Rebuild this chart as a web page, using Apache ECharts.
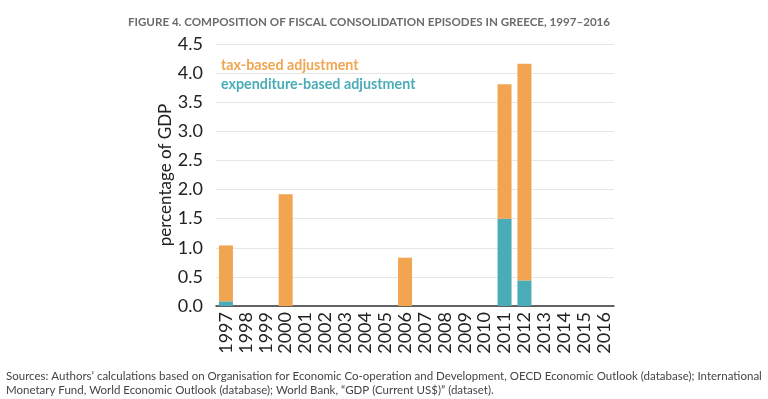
<!DOCTYPE html>
<html>
<head>
<meta charset="utf-8">
<script src="https://cdn.jsdelivr.net/npm/echarts@6/dist/echarts.min.js"></script>
<style>
  html, body { margin: 0; padding: 0; background: #fff; }
  #chart { width: 768px; height: 399px; }
</style>
</head>
<body>
<div id="chart"></div>
<script>
const years = ['1997','1998','1999','2000','2001','2002','2003','2004','2005','2006',
  '2007','2008','2009','2010','2011','2012','2013','2014','2015','2016'];
const expenditureBased = [0.08, 0, 0, 0, 0, 0, 0, 0, 0, 0, 0, 0, 0, 0, 1.5, 0.44, 0, 0, 0, 0];
const taxBased = [0.96, 0, 0, 1.92, 0, 0, 0, 0, 0, 0.83, 0, 0, 0, 0, 2.31, 3.72, 0, 0, 0, 0];

const orange = '#F2A550';
const teal = '#4AACB7';

const dom = document.getElementById('chart');
const myChart = echarts.init(dom, null, { renderer: 'canvas' });

const option = {
  animation: false,
  textStyle: { fontFamily: 'Lato' },
  title: {
    text: 'FIGURE 4. COMPOSITION OF FISCAL CONSOLIDATION EPISODES IN GREECE, 1997\u20132016',
    left: 364,
    textAlign: 'center',
    top: 11,
    textStyle: { fontSize: 11.6, fontWeight: 'bold', color: '#6b6b6b', fontFamily: 'Lato' }
  },
  legend: {
    orient: 'vertical',
    left: 216,
    top: 53,
    icon: 'none',
    itemWidth: 0,
    itemGap: 5,
    selectedMode: false,
    data: [
      { name: 'tax-based adjustment', textStyle: { color: orange } },
      { name: 'expenditure-based adjustment', textStyle: { color: teal } }
    ],
    textStyle: { fontSize: 14.3, fontWeight: 'bold', fontFamily: 'Lato', padding: [0, 0, 0, -5] }
  },
  grid: { left: 216, right: 154, top: 44, bottom: 93 },
  xAxis: {
    type: 'category',
    data: years,
    axisTick: { show: false },
    axisLine: { lineStyle: { color: '#333', width: 1.5 } },
    axisLabel: { rotate: 90, fontSize: 18, color: '#222', margin: 6, interval: 0 }
  },
  yAxis: {
    type: 'value',
    min: 0,
    max: 4.5,
    interval: 0.5,
    name: 'percentage of GDP',
    nameLocation: 'middle',
    nameGap: 42,
    nameMoveOverlap: false,
    nameTextStyle: { fontSize: 17, color: '#222' },
    axisLine: { show: false },
    axisTick: { show: false },
    splitLine: { lineStyle: { color: '#e6e6e6' } },
    axisLabel: { fontSize: 18, color: '#222', margin: 13, formatter: v => v.toFixed(1) }
  },
  series: [
    {
      name: 'expenditure-based adjustment',
      type: 'bar',
      stack: 'total',
      data: expenditureBased,
      barWidth: 14,
      itemStyle: { color: teal }
    },
    {
      name: 'tax-based adjustment',
      type: 'bar',
      stack: 'total',
      data: taxBased,
      barWidth: 14,
      itemStyle: { color: orange }
    }
  ],
  graphic: [
    {
      type: 'text',
      left: 6,
      top: 369,
      style: {
        text: 'Sources: Authors\u2019 calculations based on Organisation for Economic Co-operation and Development, OECD Economic Outlook (database); International\nMonetary Fund, World Economic Outlook (database); World Bank, \u201cGDP (Current US$)\u201d (dataset).',
        fontSize: 11.5,
        lineHeight: 14,
        fill: '#444',
        fontFamily: 'Lato'
      }
    }
  ]
};

myChart.setOption(option);
window.addEventListener('resize', myChart.resize);
</script>
</body>
</html>
